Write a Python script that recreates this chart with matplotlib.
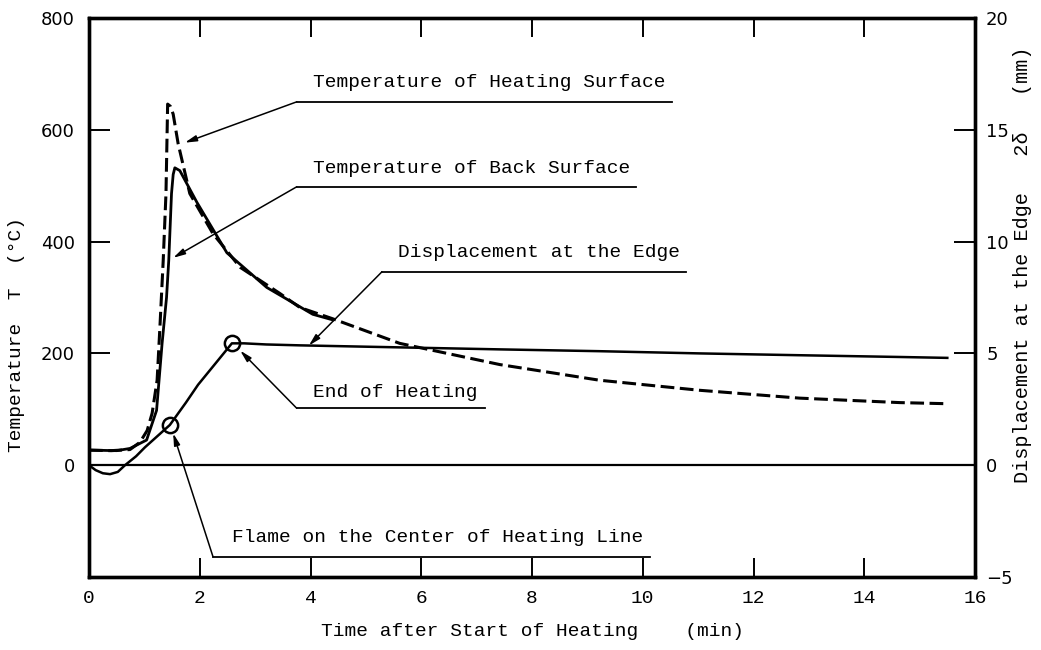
import matplotlib
matplotlib.use("Agg")
import matplotlib.pyplot as plt

# time (min) and temperature (deg C) of the heating surface
heat_t = [0, 0.4, 0.74, 0.92, 1.05, 1.14, 1.23, 1.28, 1.34, 1.39, 1.42, 1.47, 1.52,
          1.61, 1.82, 2.24, 2.73, 3.45, 3.81, 4.40, 5.61, 7.42, 9.22, 11.03, 12.83,
          14.64, 15.5]
heat_T = [27, 26, 28, 41, 62, 93, 152, 246, 366, 486, 646, 642, 628,
          575, 486, 414, 354, 307, 282, 262, 218, 180, 152, 134, 120,
          112, 110]

# back surface temperature (merges with heating surface after ~4.4 min)
back_t = [0, 0.5, 0.74, 1.04, 1.22, 1.32, 1.40, 1.44, 1.49, 1.52, 1.55, 1.64,
          1.95, 2.49, 3.21, 4.04, 4.4]
back_T = [27, 26, 30, 45, 98, 218, 300, 366, 486, 520, 532, 527,
          470, 380, 318, 270, 260]

# displacement at the edge 2delta (mm)
disp_t = [0, 0.12, 0.25, 0.38, 0.52, 0.65, 0.85, 1.01, 1.46, 1.75, 1.97, 2.3, 2.58,
          2.8, 3.2, 3.81, 5.0, 7.42, 9.2, 11.03, 12.8, 14.64, 15.5]
disp_mm = [0, -0.22, -0.36, -0.4, -0.3, 0, 0.4, 0.8, 1.8, 2.8, 3.6, 4.6, 5.45,
           5.45, 5.4, 5.36, 5.3, 5.18, 5.1, 5.0, 4.92, 4.84, 4.8]

flame_pt = (1.46, 1.8)
end_pt = (2.58, 5.45)

# label text, text anchor (t, T), underline end t, arrow tip (t, T)
labels = ["Temperature of Heating Surface", "Temperature of Back Surface",
          "Displacement at the Edge", "End of Heating",
          "Flame on the Center of Heating Line"]
label_pos = [(4.04, 684), (4.04, 530), (5.58, 380), (4.04, 130), (2.58, -130)]
line_start = [(3.75, 650), (3.75, 498), (5.29, 346), (3.75, 102), (2.24, -164)]
line_end = [10.52, 9.87, 10.79, 7.15, 10.13]
arrow_tip = [(1.73, 577), (1.52, 371), (3.97, 214), (2.73, 205), (1.52, 57)]

mono = "Liberation Mono"

fig = plt.figure(figsize=(10.41, 6.5), dpi=100)
ax = fig.add_axes([0.0855, 0.1123, 0.8511, 0.8600])
ax2 = ax.twinx()

ax.plot(heat_t, heat_T, color="black", lw=2.2, dashes=(4.5, 1.8))
ax.plot(back_t, back_T, color="black", lw=2.0)
ax.axhline(0, color="black", lw=1.6)
ax2.plot(disp_t, disp_mm, color="black", lw=1.8)
ax2.plot(*flame_pt, "o", ms=11, mfc="none", mec="black", mew=1.8)
ax2.plot(*end_pt, "o", ms=11, mfc="none", mec="black", mew=1.8)

for i, txt in enumerate(labels):
    ax.text(label_pos[i][0], label_pos[i][1], txt, family=mono, fontsize=14,
            ha="left", va="center")
    ax.plot([line_start[i][0], line_end[i]], [line_start[i][1], line_start[i][1]],
            color="black", lw=1.3)
    ax.annotate("", xy=arrow_tip[i], xytext=line_start[i],
                arrowprops=dict(arrowstyle="-|>,head_length=0.7,head_width=0.18",
                                color="black", lw=1.1, shrinkA=0, shrinkB=0))

ax.set_xlim(0, 16)
ax.set_ylim(-200, 800)
ax2.set_ylim(-5, 20)
ax.set_xticks(range(0, 17, 2))
ax.set_yticks([0, 200, 400, 600, 800])
ax2.set_yticks([-5, 0, 5, 10, 15, 20])

ax.tick_params(axis="x", direction="in", top=True, length=14, width=1.4, pad=9,
               labelsize=14)
ax.tick_params(axis="y", direction="in", length=15, width=1.4, pad=10, labelsize=13)
ax2.tick_params(axis="y", direction="in", length=15, width=1.4, pad=8, labelsize=13)
for lab in ax.get_xticklabels():
    lab.set_family(mono)

for a in (ax, ax2):
    for s in a.spines.values():
        s.set_linewidth(2.4)

ax.set_xlabel("Time after Start of Heating    (min)", family=mono, fontsize=14,
              labelpad=12)
fig.text(17 / 1041, 1 - 335 / 650, "Temperature  T  (°C)", family=mono,
         fontsize=14, rotation=90, ha="center", va="center")
fig.text(1022 / 1041, 1 - 265 / 650, "Displacement at the Edge   2δ   (mm)",
         family=mono, fontsize=14.5, rotation=90, ha="center", va="center")

fig.savefig("out.png", dpi=100)
